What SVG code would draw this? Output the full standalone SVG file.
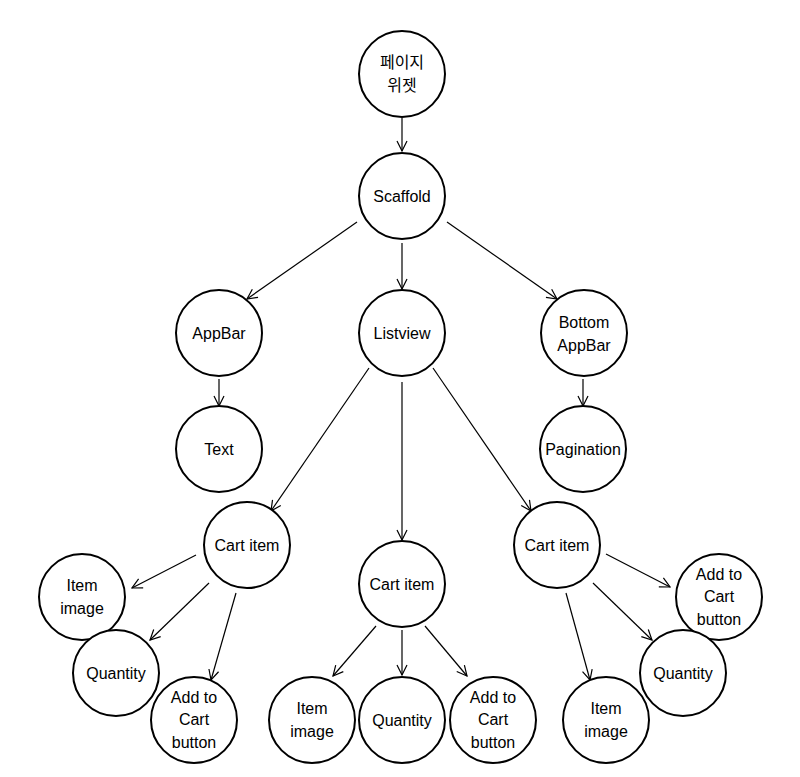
<svg xmlns="http://www.w3.org/2000/svg" width="800" height="777" viewBox="0 0 800 777">
<style>
.n{fill:#fff;stroke:#000;stroke-width:2}
.t{font-family:"Liberation Sans","Noto Sans CJK KR",Arial,sans-serif;font-size:16px;fill:#000;text-anchor:middle}
.e{stroke:#000;stroke-width:1.2;fill:none;marker-end:url(#a)}
</style>
<defs>
<marker id="a" viewBox="0 0 12 12" refX="11" refY="6" markerWidth="12" markerHeight="12" markerUnits="userSpaceOnUse" orient="auto">
<path d="M1,1 L11,6 L1,11" fill="none" stroke="#000" stroke-width="1.2"/>
</marker>
</defs>
<rect width="800" height="777" fill="#fff"/>
<g id="connectors">
<line class="e" x1="402" y1="118" x2="402" y2="151"/>
<line class="e" x1="357" y1="222" x2="247" y2="299"/>
<line class="e" x1="402" y1="243" x2="402" y2="289"/>
<line class="e" x1="447" y1="222" x2="557" y2="299"/>
<line class="e" x1="219" y1="379" x2="219" y2="406"/>
<line class="e" x1="583" y1="379" x2="583" y2="406"/>
<line class="e" x1="369" y1="368" x2="271" y2="511"/>
<line class="e" x1="402" y1="382" x2="402" y2="540"/>
<line class="e" x1="433" y1="368" x2="531" y2="511"/>
<line class="e" x1="196" y1="555" x2="132" y2="588"/>
<line class="e" x1="209" y1="583" x2="150" y2="640"/>
<line class="e" x1="236" y1="593" x2="211" y2="680"/>
<line class="e" x1="376" y1="626" x2="333" y2="676"/>
<line class="e" x1="402" y1="630" x2="402" y2="675"/>
<line class="e" x1="425" y1="626" x2="467" y2="676"/>
<line class="e" x1="606" y1="554" x2="670" y2="587"/>
<line class="e" x1="593" y1="583" x2="652" y2="640"/>
<line class="e" x1="566" y1="593" x2="590" y2="680"/>
</g>
<g id="page"><circle class="n" cx="402" cy="74" r="43"/><text class="t" x="402" y="68">페이지</text><text class="t" x="402" y="91">위젯</text></g>
<g id="scaffold"><circle class="n" cx="402" cy="196" r="43"/><text class="t" x="402" y="202">Scaffold</text></g>
<g id="appbar"><circle class="n" cx="219" cy="333" r="43"/><text class="t" x="219" y="339">AppBar</text></g>
<g id="listview"><circle class="n" cx="402" cy="333" r="43"/><text class="t" x="402" y="339">Listview</text></g>
<g id="bottomappbar"><circle class="n" cx="584" cy="333" r="43"/><text class="t" x="584" y="328">Bottom</text><text class="t" x="584" y="351">AppBar</text></g>
<g id="text"><circle class="n" cx="219" cy="449" r="43"/><text class="t" x="219" y="455">Text</text></g>
<g id="pagination"><circle class="n" cx="583" cy="449" r="43"/><text class="t" x="583" y="455">Pagination</text></g>
<g id="cart1"><circle class="n" cx="247" cy="545" r="43"/><text class="t" x="247" y="551">Cart item</text></g>
<g id="cart2"><circle class="n" cx="402" cy="584" r="43"/><text class="t" x="402" y="590">Cart item</text></g>
<g id="cart3"><circle class="n" cx="557" cy="545" r="43"/><text class="t" x="557" y="551">Cart item</text></g>
<g id="img1"><circle class="n" cx="82" cy="597" r="43"/><text class="t" x="82" y="591">Item</text><text class="t" x="82" y="614">image</text></g>
<g id="qty1"><circle class="n" cx="116" cy="673" r="43"/><text class="t" x="116" y="679">Quantity</text></g>
<g id="add1"><circle class="n" cx="194" cy="720" r="43"/><text class="t" x="194" y="703">Add to</text><text class="t" x="194" y="725">Cart</text><text class="t" x="194" y="748">button</text></g>
<g id="img2"><circle class="n" cx="312" cy="720" r="43"/><text class="t" x="312" y="714">Item</text><text class="t" x="312" y="737">image</text></g>
<g id="qty2"><circle class="n" cx="402" cy="720" r="43"/><text class="t" x="402" y="726">Quantity</text></g>
<g id="add2"><circle class="n" cx="493" cy="720" r="43"/><text class="t" x="493" y="703">Add to</text><text class="t" x="493" y="725">Cart</text><text class="t" x="493" y="748">button</text></g>
<g id="add3"><circle class="n" cx="719" cy="597" r="43"/><text class="t" x="719" y="580">Add to</text><text class="t" x="719" y="602">Cart</text><text class="t" x="719" y="625">button</text></g>
<g id="qty3"><circle class="n" cx="683" cy="673" r="43"/><text class="t" x="683" y="679">Quantity</text></g>
<g id="img3"><circle class="n" cx="606" cy="720" r="43"/><text class="t" x="606" y="714">Item</text><text class="t" x="606" y="737">image</text></g>
</svg>
